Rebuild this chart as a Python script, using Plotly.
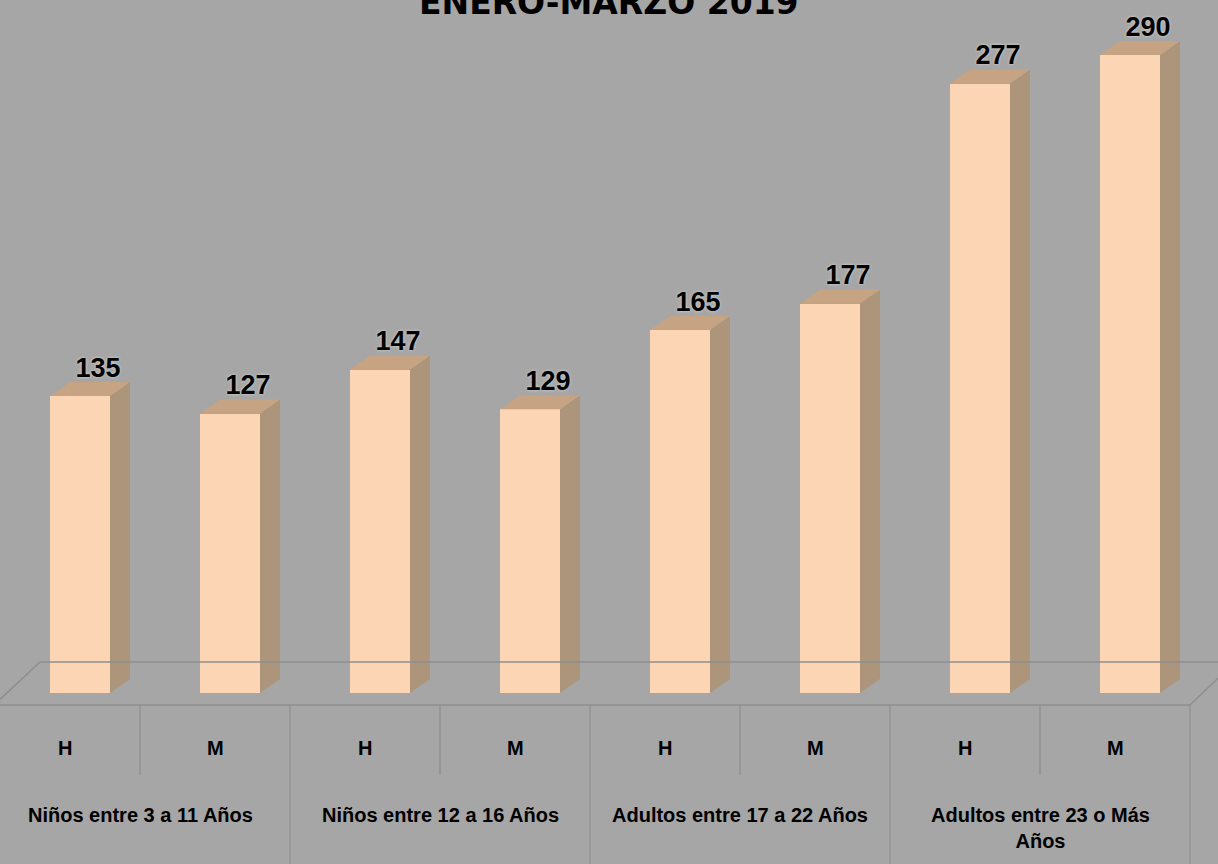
import plotly.graph_objects as go

# ---- data ----
groups = ["Niños entre 3 a 11 Años", "Niños entre 12 a 16 Años",
          "Adultos entre 17 a 22 Años", "Adultos entre 23 o Más<br>Años"]
sexes = ["H", "M"]
values = [135, 127, 147, 129, 165, 177, 277, 290]
title_text = "ENERO-MARZO 2019"

# ---- styling / geometry constants ----
W, H = 1218, 864
BG = "#a6a6a6"
FRONT = "#fcd5b4"
SIDE = "#ad957c"
TOP = "#c6a383"
LINE = "#8e8e8e"
PX_PER_SLOT = 150.0
X0_PX = 65.0          # pixel of slot 0 center
BASE_PX = 693.0       # pixel of value 0 (front)
PX_PER_UNIT = 2.2
FONT = "Liberation Sans Narrow, Liberation Sans, Arial"

def xd(px):
    return (px - X0_PX) / PX_PER_SLOT

def yd(py):
    return (BASE_PX - py) / PX_PER_UNIT

BAR_SHIFT = 15 / PX_PER_SLOT
BAR_W = 60 / PX_PER_SLOT
DX = 20 / PX_PER_SLOT
DY = 14 / PX_PER_UNIT
LABEL_DY = 26 / PX_PER_UNIT
LABEL_DX = 18 / PX_PER_SLOT

n = len(values)
xpos = [i + BAR_SHIFT for i in range(n)]

fig = go.Figure()

# side faces & top faces
sx, sy, tx, ty = [], [], [], []
for x, v in zip(xpos, values):
    xl, xr = x - BAR_W / 2, x + BAR_W / 2
    sx += [xr, xr + DX, xr + DX, xr, xr, None]
    sy += [0, DY, v + DY, v, 0, None]
    tx += [xl, xr, xr + DX, xl + DX, xl, None]
    ty += [v, v, v + DY, v + DY, v, None]

fig.add_trace(go.Scatter(x=sx, y=sy, mode="lines", fill="toself", fillcolor=SIDE,
                         line=dict(width=0, color=SIDE), hoverinfo="skip", showlegend=False))
fig.add_trace(go.Scatter(x=tx, y=ty, mode="lines", fill="toself", fillcolor=TOP,
                         line=dict(width=0, color=TOP), hoverinfo="skip", showlegend=False))

# front faces
fig.add_trace(go.Bar(x=xpos, y=values, width=BAR_W, marker=dict(color=FRONT, line=dict(width=0)),
                     showlegend=False))

# value labels
fig.add_trace(go.Scatter(x=[x + LABEL_DX for x in xpos], y=[v + LABEL_DY for v in values],
                         mode="text", text=[f"<b>{v}</b>" for v in values],
                         textposition="middle center",
                         textfont=dict(family=FONT, size=27, color="black",
                                       shadow="0px 0px 3px rgba(225,225,225,0.9)"),
                         showlegend=False, hoverinfo="skip"))

shapes = []
# floor
floor_back = yd(662)
floor_front = yd(705)
shapes.append(dict(type="line", x0=xd(40), y0=floor_back, x1=xd(1240), y1=floor_back,
                   line=dict(color=LINE, width=1.5)))
shapes.append(dict(type="line", x0=xd(-6), y0=floor_front, x1=xd(1190), y1=floor_front,
                   line=dict(color=LINE, width=1.5)))
shapes.append(dict(type="line", x0=xd(40), y0=floor_back, x1=xd(-6), y1=floor_front,
                   line=dict(color=LINE, width=1.5)))
shapes.append(dict(type="line", x0=xd(1190), y0=floor_front, x1=xd(1235), y1=floor_back,
                   line=dict(color=LINE, width=1.5)))
# category separators
for k in range(n):
    full = (k % 2 == 1)
    shapes.append(dict(type="line", x0=k + 0.5, x1=k + 0.5, y0=floor_front,
                       y1=yd(864) if full else yd(775),
                       line=dict(color=LINE, width=1.2)))

annotations = []
for i in range(n):
    annotations.append(dict(x=i, y=yd(748), text=f"<b>{sexes[i % 2]}</b>", showarrow=False,
                            xanchor="center", yanchor="middle",
                            font=dict(family=FONT, size=20, color="black")))
for g, name in enumerate(groups):
    annotations.append(dict(x=2 * g + 0.5, y=yd(802), text=f"<b>{name}</b>", showarrow=False,
                            xanchor="center", yanchor="top",
                            font=dict(family=FONT, size=20, color="black")))
annotations.append(dict(x=0.5, y=1, xref="paper", yref="paper", yshift=-2,
                        text=f"<b>{title_text}</b>", showarrow=False,
                        xanchor="center", yanchor="middle",
                        font=dict(family="DejaVu Sans", size=33, color="black")))

fig.update_layout(
    width=W, height=H,
    margin=dict(l=0, r=0, t=0, b=0),
    paper_bgcolor=BG, plot_bgcolor=BG,
    xaxis=dict(range=[xd(0), xd(W)], visible=False, fixedrange=True),
    yaxis=dict(range=[yd(H), yd(0)], visible=False, fixedrange=True),
    shapes=shapes, annotations=annotations,
    bargap=0, showlegend=False,
)

fig.write_html("out.html", post_script="document.body.style.margin='0px';",
               config={"displayModeBar": False})
